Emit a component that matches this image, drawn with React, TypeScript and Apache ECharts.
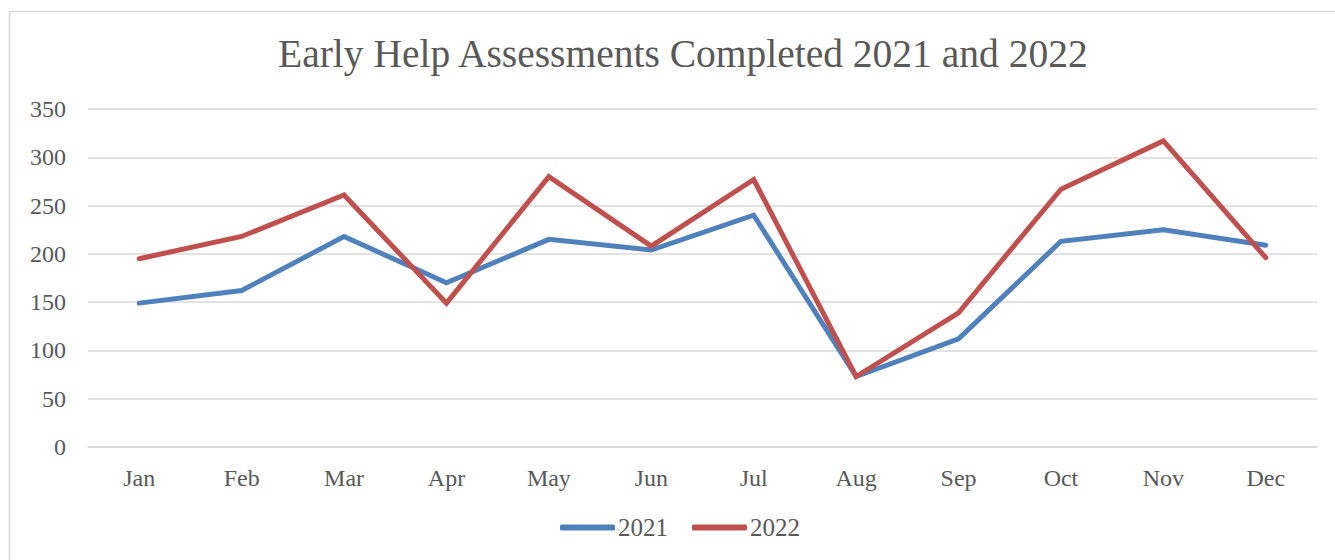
import React, { useEffect, useRef } from "react";
import * as echarts from "echarts";

const months = ["Jan", "Feb", "Mar", "Apr", "May", "Jun", "Jul", "Aug", "Sep", "Oct", "Nov", "Dec"];
const values2021 = [149, 162, 218, 170, 215, 204, 240, 73, 112, 213, 225, 209];
const values2022 = [195, 218, 261, 149, 280, 208, 277, 73, 139, 267, 317, 196];
const yTicks = { min: 0, max: 350, interval: 50 };

const FONT = "'Liberation Serif', 'DejaVu Serif', serif";
const TEXT = "#595959";

export default function App() {
  const ref = useRef<HTMLDivElement>(null);
  useEffect(() => {
    if (!ref.current) return;
    const chart = echarts.init(ref.current, undefined, { renderer: "svg" });
    chart.setOption({
      animation: false,
      backgroundColor: "#ffffff",
      graphic: [
        {
          type: "rect",
          shape: { x: 9.5, y: 11.5, width: 1340, height: 570 },
          style: { fill: "none", stroke: "#d9d9d9", lineWidth: 1.5 },
          silent: true,
        },
      ],
      title: {
        text: "Early Help Assessments Completed 2021 and 2022",
        left: 273,
        top: 29,
        textStyle: { fontFamily: FONT, fontSize: 39.5, fontWeight: "normal", color: TEXT },
      },
      legend: {
        bottom: 15,
        left: 555,
        icon: "roundRect",
        itemWidth: 55,
        itemHeight: 6,
        itemGap: 24,
        textStyle: { fontFamily: FONT, fontSize: 25, color: TEXT, padding: [0, 0, 0, -2] },
        data: ["2021", "2022"],
      },
      grid: { left: 88, right: 18, top: 109, bottom: 113, containLabel: false },
      xAxis: {
        type: "category",
        data: months,
        boundaryGap: true,
        axisLine: { show: true, lineStyle: { color: "#d9d9d9", width: 1.5 } },
        axisTick: { show: false },
        axisLabel: { fontFamily: FONT, fontSize: 24, color: TEXT, margin: 19 },
      },
      yAxis: {
        type: "value",
        min: yTicks.min,
        max: yTicks.max,
        interval: yTicks.interval,
        axisLine: { show: false },
        axisTick: { show: false },
        splitLine: { lineStyle: { color: "#d9d9d9", width: 1.5 } },
        axisLabel: { fontFamily: FONT, fontSize: 24, color: TEXT, margin: 22 },
      },
      series: [
        {
          name: "2021",
          type: "line",
          data: values2021,
          symbol: "none",
          lineStyle: { color: "#4F81BD", width: 5, cap: "round", join: "miter" },
          itemStyle: { color: "#4F81BD" },
        },
        {
          name: "2022",
          type: "line",
          data: values2022,
          symbol: "none",
          lineStyle: { color: "#C0504D", width: 5, cap: "round", join: "miter" },
          itemStyle: { color: "#C0504D" },
        },
      ],
    });
    return () => chart.dispose();
  }, []);
  return (
    <div
      ref={ref}
      style={{ position: "fixed", left: 0, top: 0, width: 1335, height: 560 }}
    />
  );
}
